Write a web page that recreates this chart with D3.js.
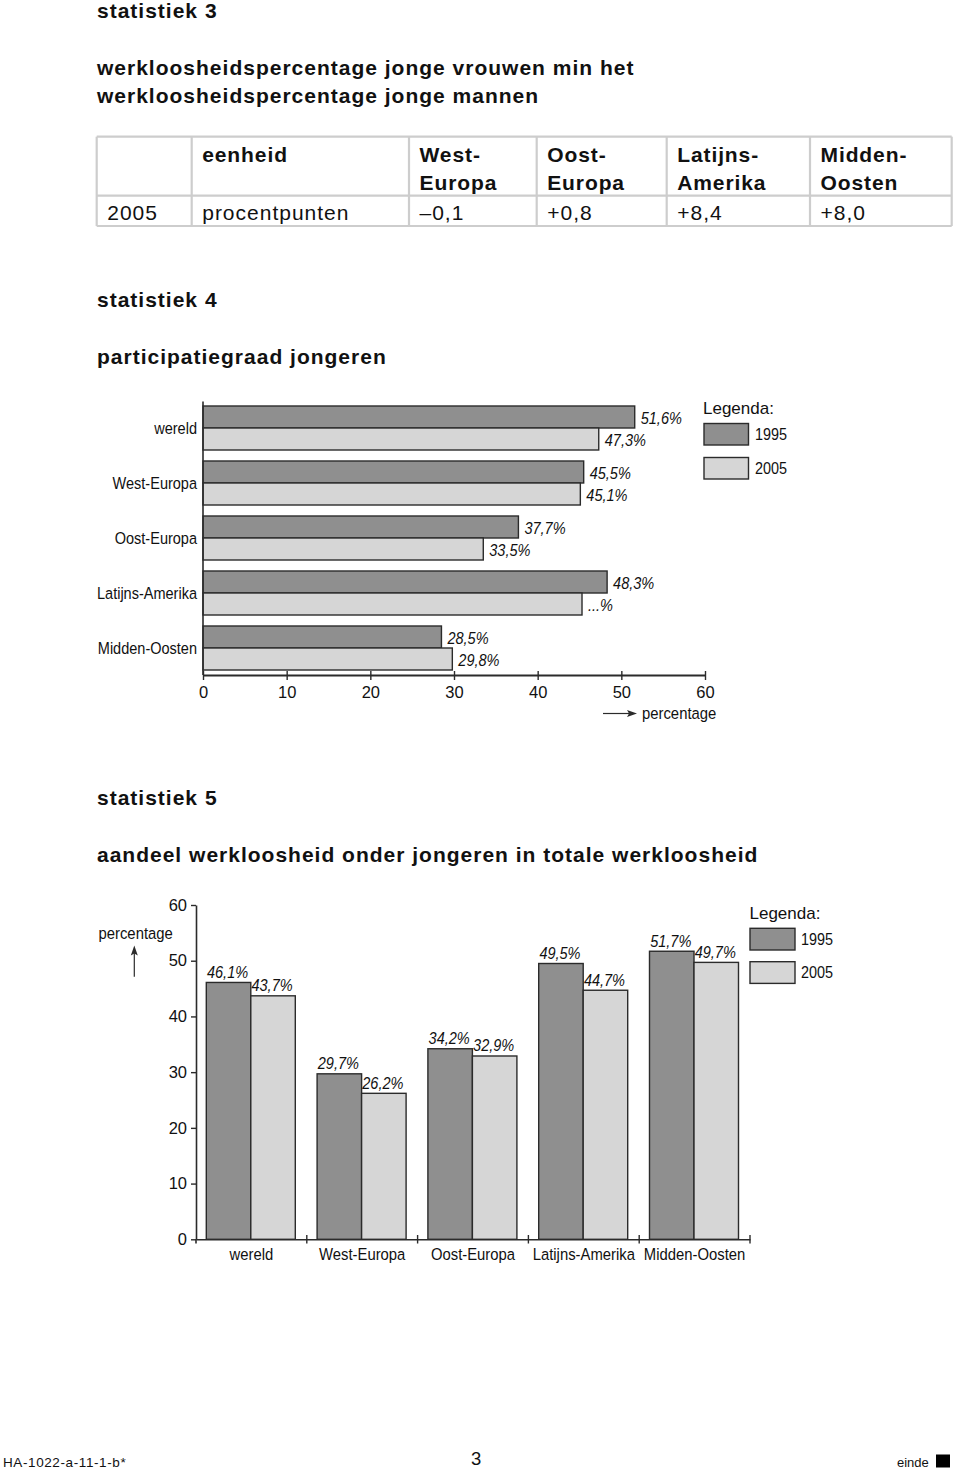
<!DOCTYPE html>
<html>
<head>
<meta charset="utf-8">
<script src="https://cdn.jsdelivr.net/npm/d3@7"></script>
<style>
  html, body { margin: 0; padding: 0; background: #fff; }
  svg { display: block; font-family: "Liberation Sans", Arial, Helvetica, sans-serif; }
</style>
</head>
<body>
<svg id="page" width="960" height="1470"></svg>
<script>
// ---------- DATA ----------
const table3Header = ["", "eenheid", "West-|Europa", "Oost-|Europa", "Latijns-|Amerika", "Midden-|Oosten"];
const table3Row = ["2005", "procentpunten", "–0,1", "+0,8", "+8,4", "+8,0"];

const series = ["1995", "2005"];

const stat4Categories = ["wereld", "West-Europa", "Oost-Europa", "Latijns-Amerika", "Midden-Oosten"];
const stat4Values1995 = [51.6, 45.5, 37.7, 48.3, 28.5];
const stat4Values2005 = [47.3, 45.1, 33.5, 45.3, 29.8];
const stat4Labels1995 = ["51,6%", "45,5%", "37,7%", "48,3%", "28,5%"];
const stat4Labels2005 = ["47,3%", "45,1%", "33,5%", "...%", "29,8%"];
const stat4Ticks = [0, 10, 20, 30, 40, 50, 60];

const stat5Categories = ["wereld", "West-Europa", "Oost-Europa", "Latijns-Amerika", "Midden-Oosten"];
const stat5Values1995 = [46.1, 29.7, 34.2, 49.5, 51.7];
const stat5Values2005 = [43.7, 26.2, 32.9, 44.7, 49.7];
const stat5Ticks = [0, 10, 20, 30, 40, 50, 60];

// ---------- STYLE ----------
const DARK = "#8f8f8f", LIGHT = "#d6d6d6", STROKE = "#2b2b2b", INK = "#111";
const fills = { "1995": DARK, "2005": LIGHT };
const fmt = v => v.toFixed(1).replace(".", ",") + "%";

const svg = d3.select("#page");

function txt(parent, x, y, s, o = {}) {
  const t = parent.append("text")
    .attr("transform", `translate(${x},${y}) scale(${o.sx || 1},1)`)
    .attr("font-size", o.size || 16)
    .attr("text-anchor", o.anchor || "start")
    .attr("fill", INK)
    .text(s);
  if (o.italic) t.attr("font-style", "italic");
  if (o.bold) t.attr("font-weight", "bold");
  if (o.ls) t.attr("letter-spacing", o.ls);
  if (o.dy) t.attr("dy", o.dy);
  return t;
}

// ---------- HEADINGS ----------
const H = { size: 21, bold: true, ls: 1.0 };
txt(svg, 97, 18, "statistiek 3", H);
txt(svg, 97, 75, "werkloosheidspercentage jonge vrouwen min het", H);
txt(svg, 97, 103, "werkloosheidspercentage jonge mannen", H);
txt(svg, 97, 307, "statistiek 4", H);
txt(svg, 97, 364, "participatiegraad jongeren", H);
txt(svg, 97, 805, "statistiek 5", H);
txt(svg, 97, 862, "aandeel werkloosheid onder jongeren in totale werkloosheid", H);

// ---------- TABLE (statistiek 3) ----------
const colX = [96.7, 191.7, 409, 536.7, 666.7, 810, 951.7];
const rowY = [136.7, 195.7, 226];
const tg = svg.append("g");
rowY.forEach(y => tg.append("line").attr("x1", colX[0]).attr("x2", colX[colX.length - 1])
  .attr("y1", y).attr("y2", y).attr("stroke", "#cdcdcd").attr("stroke-width", 2.2));
colX.forEach(x => tg.append("line").attr("x1", x).attr("x2", x)
  .attr("y1", rowY[0]).attr("y2", rowY[2]).attr("stroke", "#cdcdcd").attr("stroke-width", 2.2));
table3Header.forEach((h, i) => {
  h.split("|").forEach((line, j) => {
    if (line) txt(tg, colX[i] + 10.5, 161.5 + j * 28, line, { size: 21, bold: true, ls: 0.9 });
  });
});
table3Row.forEach((c, i) => txt(tg, colX[i] + 10.5, 219.5, c, { size: 21, ls: 1.0 }));

// ---------- STATISTIEK 4: horizontal bars ----------
(function () {
  const g = svg.append("g");
  const x = d3.scaleLinear().domain([0, 60]).range([203, 705]);
  const y = d3.scaleBand().domain(stat4Categories).range([406, 670]).paddingInner(0.2);
  const ys = d3.scaleBand().domain(series).range([0, y.bandwidth()]);
  const rows = stat4Categories.map((c, i) => ({
    c, vals: [
      { s: "1995", v: stat4Values1995[i], l: stat4Labels1995[i] },
      { s: "2005", v: stat4Values2005[i], l: stat4Labels2005[i] }]
  }));
  const grp = g.selectAll("g.cat").data(rows).join("g")
    .attr("transform", d => `translate(0,${y(d.c)})`);
  grp.selectAll("rect").data(d => d.vals).join("rect")
    .attr("x", x(0)).attr("y", d => ys(d.s))
    .attr("width", d => x(d.v) - x(0)).attr("height", ys.bandwidth())
    .attr("fill", d => fills[d.s]).attr("stroke", STROKE).attr("stroke-width", 1.4);
  grp.each(function (d) {
    const gg = d3.select(this);
    d.vals.forEach(v => txt(gg, x(v.v) + 6, ys(v.s) + ys.bandwidth() / 2 + 1, v.l,
      { size: 16.5, italic: true, sx: 0.88, dy: "0.35em" }));
  });
  // category labels
  stat4Categories.forEach(c => txt(g, 197, y(c) + y.bandwidth() / 2, c,
    { size: 16.5, anchor: "end", sx: 0.88, dy: "0.35em" }));
  // vertical axis line
  g.append("line").attr("x1", x(0)).attr("x2", x(0)).attr("y1", 401.5).attr("y2", 675)
    .attr("stroke", STROKE).attr("stroke-width", 1.6);
  // x axis
  const ax = g.append("g").attr("transform", "translate(0,675)")
    .call(d3.axisBottom(x).tickValues(stat4Ticks).tickSize(5).tickSizeOuter(0));
  ax.attr("font-family", null);
  ax.select(".domain").attr("stroke", STROKE).attr("stroke-width", 1.8);
  ax.selectAll(".tick line").attr("y1", -4).attr("y2", 5).attr("stroke", STROKE).attr("stroke-width", 1.4);
  ax.selectAll(".tick text").attr("y", 17).attr("dy", "0.35em")
    .attr("font-size", 16.5).attr("fill", INK);
  // axis title with arrow
  g.append("line").attr("x1", 603).attr("x2", 630).attr("y1", 713.5).attr("y2", 713.5)
    .attr("stroke", STROKE).attr("stroke-width", 1.2);
  g.append("path").attr("d", "M637,713.5 L627,710 L629,713.5 L627,717 Z").attr("fill", STROKE);
  txt(g, 642, 713.5, "percentage", { size: 16.5, sx: 0.9, dy: "0.35em" });
  // legend
  txt(g, 703, 414, "Legenda:", { size: 17 });
  series.forEach((s, i) => {
    g.append("rect").attr("x", 704).attr("y", 423.5 + i * 34).attr("width", 44.5).attr("height", 21.5)
      .attr("fill", fills[s]).attr("stroke", STROKE).attr("stroke-width", 1.4);
    txt(g, 755, 434 + i * 34, s, { size: 16, sx: 0.9, dy: "0.35em" });
  });
})();

// ---------- STATISTIEK 5: vertical bars ----------
(function () {
  const g = svg.append("g");
  const y = d3.scaleLinear().domain([0, 60]).range([1239.3, 905]);
  const x = d3.scaleBand().domain(stat5Categories).range([196, 750]);
  const xs = d3.scaleBand().domain(series).range([10.3, 99.3]);
  const rows = stat5Categories.map((c, i) => ({
    c, vals: [{ s: "1995", v: stat5Values1995[i] }, { s: "2005", v: stat5Values2005[i] }]
  }));
  const grp = g.selectAll("g.cat").data(rows).join("g")
    .attr("transform", d => `translate(${x(d.c)},0)`);
  grp.selectAll("rect").data(d => d.vals).join("rect")
    .attr("x", d => xs(d.s)).attr("y", d => y(d.v))
    .attr("width", xs.bandwidth()).attr("height", d => y(0) - y(d.v))
    .attr("fill", d => fills[d.s]).attr("stroke", STROKE).attr("stroke-width", 1.4);
  grp.each(function (d) {
    const gg = d3.select(this);
    d.vals.forEach(v => txt(gg, xs(v.s) + xs.bandwidth() / 2 - 1, y(v.v) - 4.5, fmt(v.v),
      { size: 16.5, italic: true, sx: 0.88, anchor: "middle" }));
  });
  // y axis
  const ay = g.append("g").attr("transform", "translate(196,0)")
    .call(d3.axisLeft(y).tickValues(stat5Ticks).tickSize(5).tickPadding(4).tickSizeOuter(0));
  ay.attr("font-family", null);
  ay.select(".domain").attr("stroke", STROKE).attr("stroke-width", 1.6);
  ay.selectAll(".tick line").attr("stroke", STROKE).attr("stroke-width", 1.4);
  ay.selectAll(".tick text").attr("font-size", 16.5).attr("fill", INK);
  // x axis with labels at band centres
  const ax = g.append("g").attr("transform", "translate(0,1239.3)")
    .call(d3.axisBottom(x).tickSize(0).tickSizeOuter(0));
  ax.attr("font-family", null);
  ax.select(".domain").attr("stroke", STROKE).attr("stroke-width", 1.6);
  ax.selectAll(".tick text").attr("y", 15).attr("dy", "0.35em")
    .attr("font-size", 16.5).attr("fill", INK).attr("transform", "scale(0.9,1)");
  // boundary ticks
  const bounds = stat5Categories.map(c => x(c) + x.bandwidth());
  g.selectAll("line.btick").data(bounds).join("line")
    .attr("x1", d => d).attr("x2", d => d).attr("y1", 1235).attr("y2", 1243.5)
    .attr("stroke", STROKE).attr("stroke-width", 1.4);
  g.append("line").attr("x1", 196).attr("x2", 196).attr("y1", 1239).attr("y2", 1243.5)
    .attr("stroke", STROKE).attr("stroke-width", 1.6);
  // axis title with arrow
  txt(g, 98.5, 933.5, "percentage", { size: 16.5, sx: 0.9, dy: "0.35em" });
  g.append("line").attr("x1", 134.3).attr("x2", 134.3).attr("y1", 976.7).attr("y2", 952)
    .attr("stroke", STROKE).attr("stroke-width", 1.2);
  g.append("path").attr("d", "M134.3,945.5 L130.8,955.5 L134.3,953.5 L137.8,955.5 Z").attr("fill", STROKE);
  // legend
  txt(g, 749.5, 913.5, "Legenda:", { size: 17, dy: "0.35em" });
  series.forEach((s, i) => {
    g.append("rect").attr("x", 750).attr("y", 928.3 + i * 33.4).attr("width", 45).attr("height", 21.7)
      .attr("fill", fills[s]).attr("stroke", STROKE).attr("stroke-width", 1.4);
    txt(g, 801, 939 + i * 33.4, s, { size: 16, sx: 0.9, dy: "0.35em" });
  });
})();

// ---------- FOOTER ----------
txt(svg, 3, 1466.5, "HA-1022-a-11-1-b*", { size: 13.5, ls: 0.6 });
txt(svg, 471, 1465, "3", { size: 18.5 });
txt(svg, 897, 1466.5, "einde", { size: 13 });
svg.append("rect").attr("x", 936).attr("y", 1454.5).attr("width", 14).attr("height", 13).attr("fill", "#000");
</script>
</body>
</html>
